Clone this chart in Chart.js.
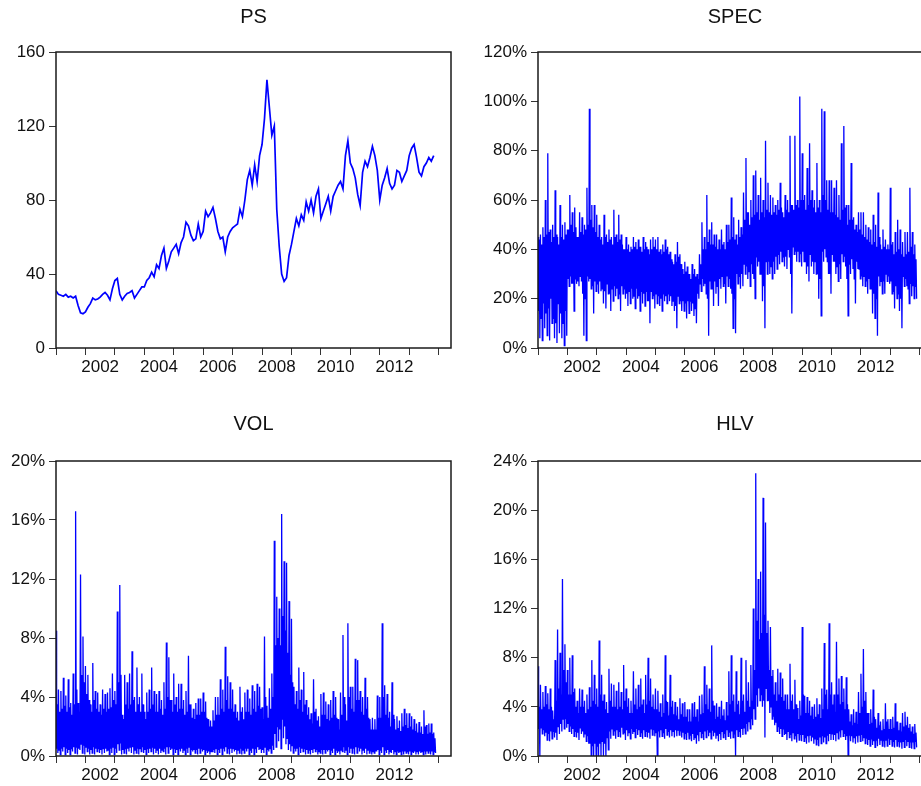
<!DOCTYPE html>
<html>
<head>
<meta charset="utf-8">
<script src="https://cdn.jsdelivr.net/npm/chart.js@4"></script>
<style>
  html, body { margin: 0; padding: 0; background: #fff; overflow: hidden; width: 921px; height: 786px; }
  canvas { position: absolute; }
</style>
</head>
<body>
<canvas id="psChart"   width="460" height="390" style="left:0;top:0"></canvas>
<canvas id="specChart" width="480" height="390" style="left:460px;top:0"></canvas>
<canvas id="volChart"  width="460" height="386" style="left:0;top:400px"></canvas>
<canvas id="hlvChart"  width="480" height="386" style="left:460px;top:400px"></canvas>
<script>
// Monthly observations starting January 2001 (last one November 2013).
const firstYear = 2001;
const yearTicks = [2001, 2002, 2003, 2004, 2005, 2006, 2007, 2008, 2009, 2010, 2011, 2012, 2013, 2014];
const yearLabels = [2002, 2004, 2006, 2008, 2010, 2012];

const psTicks = [0, 40, 80, 120, 160];
const specTicks = [0, 20, 40, 60, 80, 100, 120];
const volTicks = [0, 4, 8, 12, 16, 20];
const hlvTicks = [0, 4, 8, 12, 16, 20, 24];

// PS: monthly level
const psValues = [
  31, 29, 28.5, 28, 29, 27.5, 28, 27, 28, 23, 19, 18.5,
  19.5, 22, 24, 27, 26, 26.5, 27.5, 29, 30, 28.5, 26, 32,
  36.5, 37.6, 29, 26, 28, 29.5, 30, 31, 27, 29, 31, 33,
  33, 36.5, 38, 41, 38.5, 45, 43, 50, 54, 43, 47, 52,
  54, 56, 51, 57, 60, 68, 66, 61, 58, 59, 67, 60,
  63, 74, 71, 73, 76, 70, 63, 59, 60, 52, 60, 63,
  65, 66, 67, 75, 71, 80, 91, 96, 88, 99, 90, 104,
  110, 124, 145, 130, 115, 120, 75, 55, 40, 36, 38, 50,
  56, 63, 70, 66, 72, 69, 79, 74, 80, 73, 82, 86,
  70, 74, 78, 82, 74, 82, 85, 88, 90, 86, 104, 112,
  100, 97, 92, 83, 77, 95, 101, 98, 103, 109, 104, 96,
  80, 88, 92, 97, 89, 86, 88, 96, 95, 90, 93, 96,
  104, 108, 110, 103, 95, 93, 98, 100, 103, 101, 104
];

// SPEC (%): monthly extremes and the usual band of the month
const specHigh = [
  45, 46, 49, 60, 79, 48, 50, 64, 45, 58, 50, 51,
  48, 62, 55, 57, 45, 55, 53, 50, 65, 97, 58, 58,
  54, 50, 45, 54, 46, 48, 45, 56, 46, 54, 46, 40,
  45, 42, 41, 45, 43, 44, 41, 45, 43, 40, 44, 45,
  44, 45, 40, 42, 44, 41, 39, 35, 38, 43, 38, 32,
  35, 33, 30, 34, 32, 30, 38, 51, 45, 62, 48, 51,
  46, 46, 44, 48, 43, 50, 50, 61, 53, 46, 52, 49,
  63, 77, 55, 60, 70, 72, 62, 69, 60, 84, 67, 62,
  61, 58, 60, 67, 55, 62, 60, 86, 58, 86, 60, 102,
  79, 62, 73, 83, 64, 60, 75, 60, 97, 96, 68, 68,
  68, 65, 68, 62, 83, 90, 58, 58, 75, 53, 50, 55,
  55, 55, 50, 49, 48, 54, 50, 63, 42, 48, 44, 42,
  65, 43, 47, 52, 48, 43, 47, 47, 65, 47, 42
];
const specLow = [
  4, 3, 8, 5, 3, 10, 4, 2, 6, 4, 1, 5,
  25, 26, 15, 26, 25, 27, 5, 3, 27, 24, 14, 23,
  22, 23, 18, 16, 22, 15, 19, 21, 20, 15, 22, 20,
  17, 18, 20, 16, 20, 15, 18, 17, 19, 10, 20, 16,
  18, 17, 15, 19, 18, 19, 17, 15, 8, 18, 15, 15,
  12, 14, 15, 13, 10, 20, 23, 25, 22, 5, 24, 17,
  22, 17, 24, 25, 18, 25, 24, 8, 6, 26, 24, 25,
  30, 28, 25, 30, 20, 33, 30, 19, 8, 30, 30, 28,
  30, 32, 34, 35, 33, 32, 37, 14, 38, 35, 35, 33,
  35, 30, 27, 33, 30, 30, 20, 13, 35, 37, 30, 22,
  35, 30, 27, 28, 35, 33, 13, 30, 32, 18, 32, 28,
  25, 25, 22, 24, 14, 12, 5, 25, 22, 22, 27, 26,
  22, 16, 20, 15, 8, 25, 25, 18, 21, 20, 20
];
const specBandTop = [
  44, 42, 45, 46, 47, 43, 45, 46, 42, 45, 44, 46,
  48, 50, 47, 49, 45, 47, 46, 48, 50, 52, 49, 47,
  45, 44, 42, 45, 43, 44, 42, 45, 43, 44, 42, 40,
  40, 39, 40, 41, 40, 41, 39, 40, 41, 38, 40, 41,
  40, 39, 38, 39, 40, 38, 36, 34, 35, 37, 34, 30,
  31, 30, 28, 30, 29, 28, 34, 40, 40, 43, 42, 42,
  41, 40, 40, 42, 40, 43, 44, 45, 44, 42, 45, 46,
  52, 55, 50, 53, 54, 55, 52, 55, 53, 56, 55, 54,
  55, 54, 56, 57, 53, 56, 55, 58, 56, 58, 57, 60,
  60, 56, 58, 60, 57, 55, 57, 55, 62, 60, 56, 55,
  55, 54, 53, 52, 56, 57, 50, 52, 52, 48, 47, 48,
  46, 45, 44, 43, 42, 43, 41, 45, 40, 41, 40, 40,
  42, 38, 39, 40, 38, 37, 38, 39, 41, 38, 36
];
const specBandBottom = [
  15, 12, 18, 14, 16, 20, 12, 10, 18, 14, 10, 15,
  28, 29, 26, 28, 27, 29, 22, 20, 29, 28, 25, 27,
  26, 27, 24, 23, 26, 22, 24, 25, 24, 22, 25, 24,
  22, 23, 24, 21, 24, 21, 23, 22, 23, 19, 23, 21,
  22, 21, 20, 22, 21, 22, 21, 19, 17, 21, 19, 19,
  18, 19, 19, 18, 16, 22, 26, 28, 26, 20, 27, 24,
  27, 25, 28, 29, 26, 29, 28, 22, 20, 30, 29, 30,
  34, 33, 31, 34, 28, 37, 35, 30, 25, 35, 35, 33,
  35, 37, 38, 39, 37, 37, 40, 30, 41, 39, 39, 38,
  39, 35, 33, 38, 35, 35, 30, 28, 39, 40, 35, 30,
  38, 35, 33, 34, 38, 37, 28, 34, 36, 28, 35, 32,
  29, 29, 27, 28, 24, 22, 20, 29, 27, 27, 30, 29,
  27, 23, 25, 22, 20, 29, 28, 24, 26, 25, 25
];

// VOL (%): monthly extremes and the usual band of the month
const volHigh = [
  8.5, 4.5, 4.4, 5.3, 4.1, 5.2, 3.6, 5.6, 16.6, 3.6, 12.3, 8.1,
  6.1, 5.5, 3.5, 6.3, 4.4, 4.3, 3.5, 4.5, 4.2, 4.3, 4.6, 5.6,
  4.4, 9.8, 11.6, 2.8, 5.5, 5.0, 5.6, 7.1, 4.0, 6.0, 4.0, 5.6,
  3.0, 4.3, 4.5, 6.0, 4.4, 4.2, 4.4, 3.8, 5.0, 7.7, 6.7, 3.8,
  5.6, 4.0, 4.9, 4.9, 3.8, 4.4, 6.8, 3.5, 3.2, 3.6, 3.9, 3.9,
  4.3, 3.7, 2.5, 2.4, 3.1, 4.0, 4.0, 5.2, 4.5, 7.4, 5.4, 5.0,
  4.5, 3.5, 3.0, 4.7, 3.3, 4.3, 4.5, 3.9, 4.8, 4.4, 4.9, 4.7,
  3.3, 8.1, 3.4, 4.6, 5.6, 14.6, 10.8, 10.0, 16.4, 13.2, 13.1, 10.5,
  9.3, 4.7, 4.4, 6.0, 4.5, 5.7, 3.8, 3.3, 2.9, 5.2, 3.2, 2.7,
  4.2, 4.3, 3.7, 3.5, 3.8, 4.4, 4.0, 2.5, 4.3, 8.2, 3.5, 9.0,
  4.7, 4.7, 6.6, 6.5, 4.4, 4.0, 5.3, 4.0, 2.5, 2.6, 2.5, 4.1,
  4.0, 9.0, 4.8, 4.2, 3.0, 5.0, 2.5, 2.7, 2.4, 2.9, 3.2, 2.9,
  2.9, 2.7, 2.5, 2.2, 2.3, 2.0, 3.1, 2.1, 2.2, 2.2, 1.6
];
const volLow = [
  0.2, 0.1, 0.3, 0.1, 0.2, 0.1, 0.3, 0.2, 0.1, 0.4, 0.2, 0.1,
  0.3, 0.1, 0.2, 0.1, 0.3, 0.2, 0.1, 0.2, 0.3, 0.1, 0.2, 0.1,
  0.2, 0.4, 0.1, 0.2, 0.1, 0.3, 0.2, 0.1, 0.2, 0.1, 0.3, 0.2,
  0.1, 0.2, 0.3, 0.1, 0.2, 0.1, 0.2, 0.3, 0.1, 0.2, 0.4, 0.1,
  0.2, 0.1, 0.3, 0.2, 0.1, 0.2, 0.1, 0.3, 0.2, 0.1, 0.2, 0.3,
  0.1, 0.2, 0.1, 0.3, 0.2, 0.1, 0.2, 0.1, 0.3, 0.2, 0.1, 0.2,
  0.3, 0.1, 0.2, 0.1, 0.2, 0.3, 0.1, 0.2, 0.1, 0.2, 0.4, 0.2,
  0.2, 0.1, 0.3, 0.2, 0.4, 0.6, 1.0, 0.5, 1.2, 0.8, 0.4, 0.3,
  0.2, 0.3, 0.1, 0.2, 0.3, 0.1, 0.2, 0.1, 0.2, 0.3, 0.1, 0.2,
  0.1, 0.2, 0.3, 0.1, 0.2, 0.1, 0.2, 0.1, 0.3, 0.2, 0.1, 0.2,
  0.2, 0.1, 0.2, 0.3, 0.1, 0.2, 0.1, 0.2, 0.1, 0.2, 0.3, 0.1,
  0.2, 0.1, 0.2, 0.1, 0.2, 0.1, 0.1, 0.2, 0.1, 0.1, 0.2, 0.1,
  0.1, 0.2, 0.1, 0.1, 0.2, 0.1, 0.1, 0.2, 0.1, 0.1, 0.2
];
const volBandTop = [
  3.5, 3.0, 3.2, 3.4, 3.0, 3.3, 2.8, 3.5, 4.5, 3.0, 5.5, 5.0,
  4.2, 3.8, 3.0, 3.8, 3.2, 3.0, 2.8, 3.2, 3.0, 3.2, 3.3, 3.8,
  3.5, 5.0, 5.5, 2.5, 3.5, 3.2, 3.5, 3.8, 3.0, 3.5, 3.0, 3.5,
  2.5, 3.0, 3.2, 3.5, 3.0, 3.0, 3.2, 2.8, 3.2, 4.0, 3.8, 3.0,
  3.5, 3.0, 3.2, 3.2, 2.8, 3.0, 3.5, 2.6, 2.5, 2.8, 2.8, 3.0,
  3.0, 2.6, 2.0, 2.0, 2.4, 2.8, 2.8, 3.2, 3.0, 3.8, 3.2, 3.2,
  3.0, 2.6, 2.4, 3.0, 2.5, 3.0, 3.0, 2.8, 3.2, 3.0, 3.4, 3.2,
  2.5, 4.0, 2.6, 3.2, 4.0, 7.5, 8.0, 7.5, 9.5, 8.5, 7.0, 5.5,
  5.0, 3.5, 3.2, 3.8, 3.0, 3.5, 2.8, 2.5, 2.2, 3.0, 2.4, 2.0,
  2.8, 2.8, 2.5, 2.4, 2.6, 2.8, 2.6, 1.8, 2.8, 4.0, 2.4, 4.0,
  3.2, 3.0, 3.8, 3.8, 3.0, 2.8, 3.2, 2.6, 1.8, 1.8, 1.8, 2.6,
  2.6, 4.0, 2.8, 2.6, 2.0, 2.8, 1.8, 1.9, 1.7, 2.0, 2.1, 1.9,
  2.0, 1.8, 1.7, 1.6, 1.6, 1.5, 2.0, 1.5, 1.6, 1.5, 1.2
];
const volBandBottom = [
  0.5, 0.4, 0.5, 0.6, 0.5, 0.4, 0.5, 0.6, 0.6, 0.5, 0.8, 0.7,
  0.6, 0.5, 0.4, 0.6, 0.5, 0.5, 0.4, 0.5, 0.5, 0.4, 0.5, 0.6,
  0.5, 0.8, 0.9, 0.4, 0.5, 0.5, 0.6, 0.6, 0.4, 0.5, 0.5, 0.6,
  0.4, 0.5, 0.5, 0.6, 0.5, 0.4, 0.5, 0.4, 0.5, 0.6, 0.6, 0.5,
  0.5, 0.4, 0.5, 0.5, 0.4, 0.5, 0.6, 0.4, 0.4, 0.4, 0.5, 0.5,
  0.4, 0.4, 0.3, 0.3, 0.4, 0.5, 0.4, 0.5, 0.5, 0.6, 0.5, 0.5,
  0.5, 0.4, 0.4, 0.5, 0.4, 0.5, 0.5, 0.4, 0.5, 0.5, 0.6, 0.5,
  0.4, 0.6, 0.4, 0.5, 0.7, 1.5, 2.0, 1.8, 2.5, 2.0, 1.2, 0.8,
  0.7, 0.5, 0.5, 0.6, 0.5, 0.5, 0.4, 0.4, 0.4, 0.5, 0.4, 0.3,
  0.4, 0.4, 0.4, 0.4, 0.4, 0.5, 0.4, 0.3, 0.4, 0.6, 0.4, 0.6,
  0.5, 0.5, 0.6, 0.6, 0.5, 0.4, 0.5, 0.4, 0.3, 0.3, 0.3, 0.4,
  0.4, 0.6, 0.4, 0.4, 0.3, 0.4, 0.3, 0.3, 0.3, 0.3, 0.3, 0.3,
  0.3, 0.3, 0.3, 0.3, 0.3, 0.3, 0.3, 0.3, 0.3, 0.3, 0.3
];

// HLV (%): monthly extremes and the usual band of the month
const hlvHigh = [
  7.3, 5.8, 5.2, 5.7, 5.1, 5.5, 3.7, 7.8, 10.3, 8.4, 14.4, 9.1,
  7.0, 8.0, 8.2, 5.5, 4.5, 5.5, 5.4, 4.5, 5.0, 5.6, 7.8, 6.6,
  5.5, 9.4, 6.6, 5.0, 4.4, 7.1, 5.9, 5.8, 5.3, 6.0, 5.2, 7.4,
  5.5, 4.7, 4.5, 6.9, 5.5, 5.8, 6.3, 4.6, 6.6, 8.0, 6.3, 5.0,
  5.5, 5.3, 4.3, 5.0, 8.2, 4.4, 6.6, 4.5, 4.4, 4.0, 4.7, 4.3,
  4.4, 3.8, 3.8, 4.3, 4.4, 3.8, 4.9, 5.0, 7.3, 5.8, 5.5, 9.0,
  4.1, 4.3, 4.0, 4.5, 3.8, 4.4, 6.9, 8.2, 5.0, 6.9, 4.5, 8.0,
  5.0, 7.8, 6.0, 7.4, 12.0, 23.0, 14.4, 15.0, 21.0, 19.0, 11.0, 10.5,
  7.0, 6.0, 7.1, 6.8, 6.3, 5.0, 5.0, 7.5, 5.0, 6.2, 3.9, 4.5,
  10.5, 4.9, 4.8, 4.5, 4.0, 4.2, 4.7, 4.2, 5.5, 9.2, 5.4, 10.8,
  6.0, 5.0, 9.3, 6.3, 6.5, 5.5, 6.4, 3.8, 3.4, 3.8, 3.6, 5.2,
  6.7, 8.7, 5.2, 3.5, 3.8, 5.4, 3.0, 3.5, 2.8, 3.0, 4.3, 3.0,
  3.0, 3.2, 4.3, 2.8, 2.7, 3.5, 3.6, 3.2, 2.6, 2.4, 2.6
];
const hlvLow = [
  0, 1.8, 1.6, 1.3, 1.2, 1.4, 1.5, 1.3, 1.8, 2.0, 2.2, 2.3,
  2.0, 1.8, 1.6, 1.5, 1.3, 1.8, 1.5, 1.2, 1.0, 0, 0, 0,
  0, 0, 0, 0, 0.5, 1.4, 1.7, 1.4, 1.6, 1.5, 1.8, 1.3,
  1.6, 1.4, 1.8, 1.5, 1.7, 1.6, 1.4, 1.6, 1.5, 1.4, 1.7, 1.6,
  0, 1.5, 1.6, 1.4, 1.7, 1.5, 1.6, 1.5, 1.6, 1.7, 1.5, 1.4,
  1.3, 1.4, 1.2, 1.3, 1.0, 1.2, 1.5, 1.3, 1.5, 1.6, 1.4, 1.6,
  1.4, 1.2, 1.3, 1.5, 1.3, 1.6, 1.4, 1.5, 0, 1.6, 1.5, 1.7,
  1.8, 2.0, 2.2, 2.5, 3.0, 4.0, 4.5, 4.0, 1.5, 4.5, 3.5, 3.0,
  2.5, 2.0, 1.8, 1.6, 1.7, 1.3, 1.5, 1.2, 1.4, 1.1, 1.3, 1.2,
  1.2, 1.0, 1.1, 1.2, 1.0, 0.9, 0.8, 1.0, 1.1, 1.0, 1.2, 1.3,
  1.3, 1.2, 1.4, 1.5, 1.6, 1.3, 0, 1.2, 1.1, 1.0, 1.1, 1.2,
  1.2, 1.0, 0.9, 0.8, 0.9, 0.7, 0.8, 0.9, 0.8, 0.7, 0.8, 0.9,
  0.8, 0.7, 0.8, 0.7, 0.6, 0.7, 0.8, 0.7, 0.6, 0.6, 0.7
];
const hlvBandTop = [
  4.0, 3.8, 4.0, 4.2, 3.8, 4.0, 3.0, 4.5, 5.5, 5.0, 7.0, 6.0,
  5.0, 5.0, 5.2, 4.0, 3.5, 4.0, 4.0, 3.5, 3.8, 4.0, 4.5, 4.2,
  4.0, 5.0, 4.5, 3.8, 3.5, 4.5, 4.0, 4.0, 3.8, 4.0, 3.8, 4.5,
  4.0, 3.5, 3.5, 4.2, 3.8, 4.0, 4.2, 3.5, 4.2, 4.5, 4.0, 3.8,
  3.8, 3.6, 3.2, 3.5, 4.5, 3.3, 4.0, 3.4, 3.3, 3.0, 3.4, 3.2,
  3.2, 2.8, 2.8, 3.2, 3.2, 2.8, 3.4, 3.5, 4.2, 3.8, 3.6, 4.5,
  3.0, 3.2, 3.0, 3.3, 2.9, 3.3, 4.2, 4.5, 3.6, 4.2, 3.4, 4.5,
  3.6, 4.5, 4.0, 4.5, 7.0, 11.0, 9.5, 10.0, 11.5, 10.0, 7.0, 6.5,
  5.0, 4.5, 5.0, 4.8, 4.5, 3.8, 3.8, 4.5, 3.8, 4.2, 3.0, 3.3,
  5.0, 3.5, 3.5, 3.3, 3.0, 3.2, 3.4, 3.1, 3.8, 5.0, 3.8, 5.0,
  4.2, 3.6, 5.0, 4.2, 4.4, 3.8, 4.2, 2.8, 2.5, 2.7, 2.6, 3.5,
  4.0, 4.5, 3.5, 2.6, 2.7, 3.2, 2.3, 2.5, 2.1, 2.2, 2.8, 2.2,
  2.2, 2.3, 2.8, 2.1, 2.0, 2.4, 2.5, 2.3, 2.0, 1.8, 1.9
];
const hlvBandBottom = [
  2.2, 2.3, 2.1, 1.9, 1.8, 2.0, 2.0, 1.9, 2.4, 2.6, 3.0, 3.0,
  2.6, 2.4, 2.2, 2.0, 1.9, 2.3, 2.0, 1.8, 1.6, 1.0, 0.8, 1.0,
  0.8, 1.0, 1.2, 1.0, 1.5, 2.0, 2.2, 2.0, 2.1, 2.0, 2.3, 1.9,
  2.1, 1.9, 2.2, 2.0, 2.2, 2.1, 1.9, 2.1, 2.0, 1.9, 2.2, 2.1,
  1.9, 2.0, 2.1, 1.9, 2.2, 2.0, 2.1, 2.0, 2.1, 2.1, 2.0, 1.9,
  1.8, 1.9, 1.7, 1.8, 1.5, 1.7, 2.0, 1.8, 2.0, 2.1, 1.9, 2.1,
  1.9, 1.7, 1.8, 2.0, 1.8, 2.1, 1.9, 2.0, 1.8, 2.1, 2.0, 2.2,
  2.3, 2.6, 2.8, 3.0, 3.8, 5.0, 5.5, 5.0, 4.5, 5.5, 4.5, 4.0,
  3.2, 2.7, 2.4, 2.2, 2.2, 1.8, 2.0, 1.7, 1.9, 1.6, 1.8, 1.7,
  1.7, 1.5, 1.6, 1.7, 1.5, 1.4, 1.3, 1.5, 1.6, 1.5, 1.7, 1.8,
  1.8, 1.7, 1.9, 2.0, 2.1, 1.8, 1.6, 1.7, 1.6, 1.5, 1.6, 1.7,
  1.7, 1.5, 1.4, 1.3, 1.4, 1.2, 1.3, 1.4, 1.3, 1.2, 1.3, 1.4,
  1.3, 1.2, 1.3, 1.2, 1.1, 1.2, 1.3, 1.2, 1.1, 1.1, 1.2
];

// ---- drawing ----
const FONT = "'Liberation Sans', Arial, Helvetica, sans-serif";
const INK = '#111111';
const LINE_BLUE = '#0000ff';
const X_MIN = 2001.0, X_MAX = 2014.42;
const PLOT_WIDTH = 395;
const YEAR_PX = PLOT_WIDTH / (X_MAX - X_MIN);

function levelPoints(values) {
  return values.map((v, i) => ({ x: firstYear + i / 12, y: v }));
}
// Within each month: high, band bottom, band top, low.
function rangePoints(high, bandBottom, bandTop, low) {
  const pts = [];
  high.forEach((h, i) => {
    pts.push({ x: firstYear + i / 12, y: h });
    pts.push({ x: firstYear + (i + 0.25) / 12, y: bandBottom[i] });
    pts.push({ x: firstYear + (i + 0.5) / 12, y: bandTop[i] });
    pts.push({ x: firstYear + (i + 0.75) / 12, y: low[i] });
  });
  return pts;
}

const framePlugin = {
  id: 'frame',
  afterDatasetsDraw(chart) {
    const { ctx, chartArea: a } = chart;
    ctx.save();
    ctx.strokeStyle = '#1a1a1a';
    ctx.lineWidth = 1.5;
    ctx.strokeRect(a.left, a.top, a.right - a.left, a.bottom - a.top);
    ctx.restore();
  }
};

function makePanel(id, cfg) {
  const tickFont = { family: FONT, size: 17 };
  return new Chart(document.getElementById(id), {
    type: 'line',
    data: {
      datasets: [{
        data: cfg.points,
        borderColor: LINE_BLUE,
        borderWidth: cfg.lineWidth,
        pointRadius: 0,
        fill: false,
        tension: 0
      }]
    },
    options: {
      responsive: false,
      animation: false,
      events: [],
      parsing: false,
      layout: { padding: { left: 0, right: cfg.padRight, top: 0, bottom: 0 } },
      plugins: {
        legend: { display: false },
        tooltip: { enabled: false },
        title: {
          display: true,
          text: cfg.title,
          fullSize: false,
          color: INK,
          font: { family: FONT, size: 20, weight: 'normal', lineHeight: 1.2 },
          padding: { top: cfg.titleTop, bottom: cfg.titleBottom }
        }
      },
      scales: {
        x: {
          type: 'linear',
          min: X_MIN,
          max: X_MAX,
          afterBuildTicks: s => { s.ticks = yearTicks.map(v => ({ value: v })); },
          afterFit: s => { s.height = cfg.xAxisHeight; },
          border: { display: false },
          grid: { drawOnChartArea: false, drawTicks: true, tickLength: 7, color: '#333', lineWidth: 1 },
          ticks: {
            autoSkip: false,
            maxRotation: 0,
            minRotation: 0,
            padding: 2,
            labelOffset: YEAR_PX / 2,
            color: INK,
            font: tickFont,
            callback: v => yearLabels.includes(v) ? String(v) : ''
          }
        },
        y: {
          type: 'linear',
          min: cfg.yTicks[0],
          max: cfg.yTicks[cfg.yTicks.length - 1],
          afterBuildTicks: s => { s.ticks = cfg.yTicks.map(v => ({ value: v })); },
          afterFit: s => { s.width = cfg.yAxisWidth; },
          border: { display: false },
          grid: { drawOnChartArea: false, drawTicks: true, tickLength: 7, color: '#333', lineWidth: 1 },
          ticks: {
            padding: 4,
            color: INK,
            font: tickFont,
            callback: v => v + cfg.unit
          }
        }
      }
    },
    plugins: [framePlugin]
  });
}

makePanel('psChart', {
  title: 'PS', points: levelPoints(psValues), lineWidth: 1.7, yTicks: psTicks, unit: '',
  yAxisWidth: 56, padRight: 9, xAxisHeight: 42, titleTop: 5, titleBottom: 23
});
makePanel('specChart', {
  title: 'SPEC', points: rangePoints(specHigh, specBandBottom, specBandTop, specLow), lineWidth: 1.3, yTicks: specTicks, unit: '%',
  yAxisWidth: 78, padRight: 8, xAxisHeight: 42, titleTop: 5, titleBottom: 23
});
makePanel('volChart', {
  title: 'VOL', points: rangePoints(volHigh, volBandBottom, volBandTop, volLow), lineWidth: 1.3, yTicks: volTicks, unit: '%',
  yAxisWidth: 56, padRight: 9, xAxisHeight: 30, titleTop: 12.5, titleBottom: 24.5
});
makePanel('hlvChart', {
  title: 'HLV', points: rangePoints(hlvHigh, hlvBandBottom, hlvBandTop, hlvLow), lineWidth: 1.3, yTicks: hlvTicks, unit: '%',
  yAxisWidth: 78, padRight: 8, xAxisHeight: 30, titleTop: 12.5, titleBottom: 24.5
});
</script>
</body>
</html>
